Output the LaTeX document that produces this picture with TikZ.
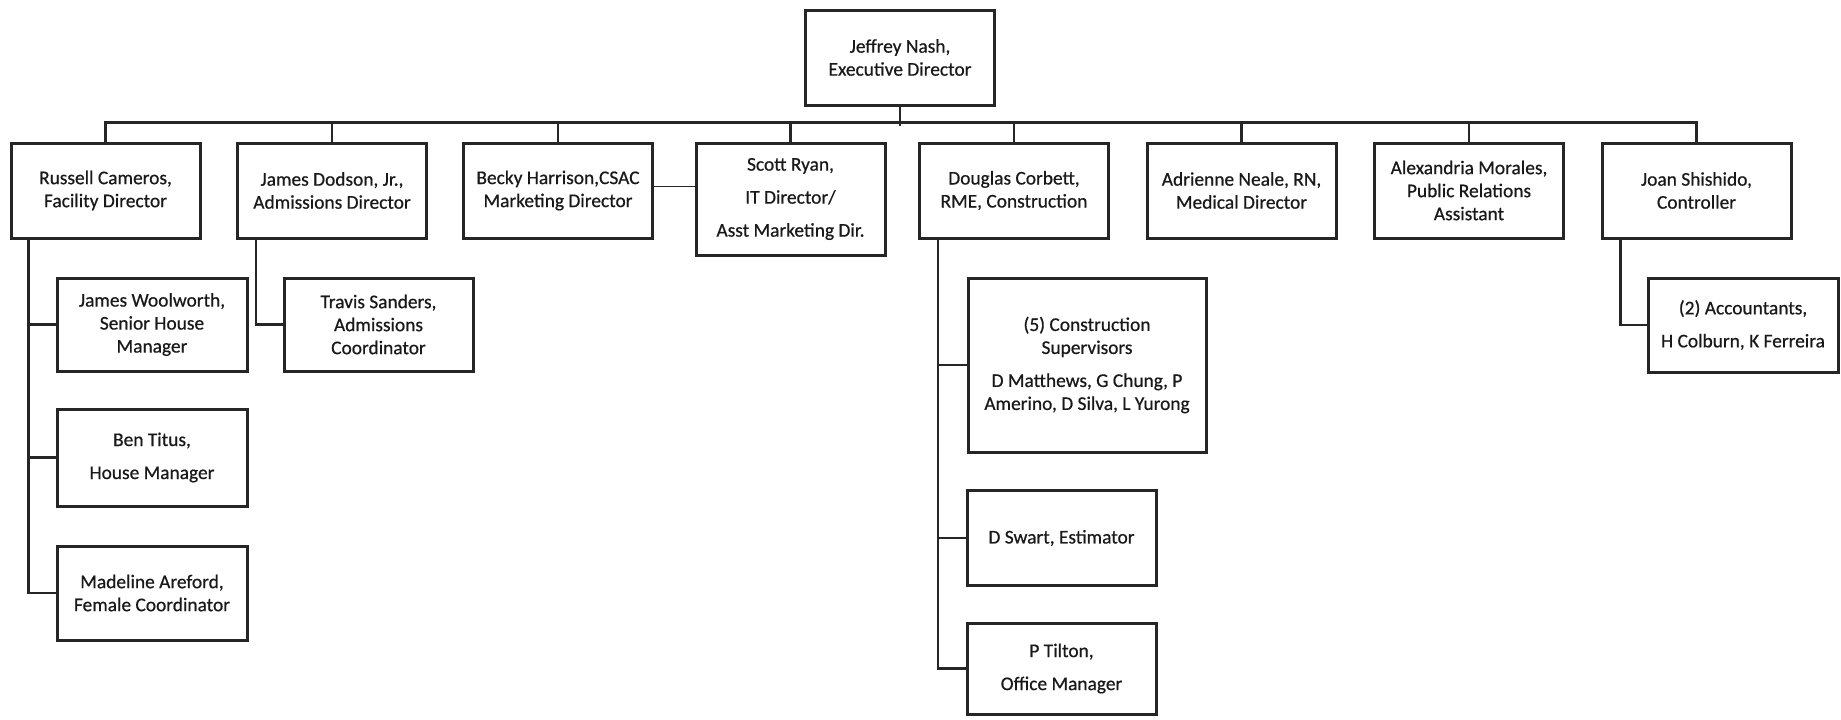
\documentclass[tikz,border=0pt]{standalone}
\usepackage{fontspec}
\setmainfont{Carlito}
\newfontfamily\boxfont{Carlito}[FakeBold=0.6]
\begin{document}
\begin{tikzpicture}[x=0.5pt, y=-0.5pt]
        \tikzstyle{box}=[rectangle, draw=black!85, line width=1.5pt, minimum width=94.5pt, minimum height=47.5pt, inner sep=0pt, align=center, font=\boxfont\fontsize{9.7}{11.5}\selectfont, text=black!90]
        \tikzstyle{link}=[draw=black!85, line width=1.3pt]

        \useasboundingbox (0,0) rectangle (1841,719);

        \node[box] (nash) at (900,57.5) {Jeffrey Nash,\\Executive Director};

        \node[box] (russell) at (105.5,190.5) {Russell Cameros,\\Facility Director};
        \node[box] (dodson) at (332,190.5) {James Dodson, Jr.,\\Admissions Director};
        \node[box] (becky) at (558,190.5) {Becky Harrison,CSAC\\Marketing Director};
        \node[box, minimum height=56pt] (scott) at (790.5,199) {Scott Ryan,\\[5pt]IT Director/\\[5pt]Asst Marketing Dir.};
        \node[box] (corbett) at (1014,190.5) {Douglas Corbett,\\RME, Construction};
        \node[box] (neale) at (1241.5,190.5) {Adrienne Neale, RN,\\Medical Director};
        \node[box] (morales) at (1469,190.5) {Alexandria Morales,\\Public Relations\\Assistant};
        \node[box] (shishido) at (1696.5,190.5) {Joan Shishido,\\Controller};

        \node[box, minimum width=95pt, minimum height=46.5pt] (woolworth) at (152,324.5) {James Woolworth,\\Senior House\\Manager};
        \node[box, minimum width=95pt, minimum height=48.5pt] (titus) at (152,457.5) {Ben Titus,\\[5pt]House Manager};
        \node[box, minimum width=95pt, minimum height=47pt] (areford) at (152,593) {Madeline Areford,\\Female Coordinator};
        \node[box, minimum height=46.5pt] (sanders) at (378.5,324.5) {Travis Sanders,\\Admissions\\Coordinator};

        \node[box, minimum width=119pt, minimum height=87pt] (supervisors) at (1087,365) {(5) Construction\\Supervisors\\[5pt]D Matthews, G Chung, P\\Amerino, D Silva, L Yurong};
        \node[box] (swart) at (1061.5,538) {D Swart, Estimator};
        \node[box, minimum height=45.5pt] (tilton) at (1061.5,668.5) {P Tilton,\\[5pt]Office Manager};

        \node[box, minimum width=95pt, minimum height=47pt] (accountants) at (1743,325) {(2) Accountants,\\[5pt]H Colburn, K Ferreira};

        \draw[link] (nash.south) -- ++(0,19);
        \draw[link] (russell.north) -- ++(0,-19) -| (shishido.north);
        \foreach \n in {dodson,becky,scott,corbett,neale,morales}
            \draw[link] (\n.north) -- ++(0,-19);
        \draw[link, line width=0.6pt] ([yshift=2pt]becky.east) -- ([yshift=2pt]becky.east -| scott.west);

        \foreach \n in {woolworth,titus,areford}
            \draw[link] ([xshift=9.5pt]russell.south west) |- (\n.west);
        \draw[link] ([xshift=10pt]dodson.south west) |- (sanders.west);
        \foreach \n in {supervisors,swart,tilton}
            \draw[link] ([xshift=10pt]corbett.south west) |- (\n.west);
        \draw[link] ([xshift=10pt]shishido.south west) |- (accountants.west);
    \end{tikzpicture}
\end{document}
